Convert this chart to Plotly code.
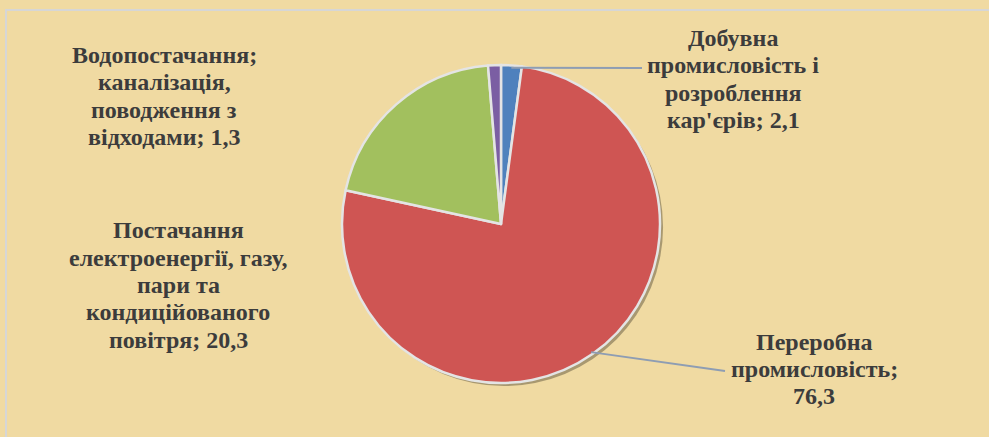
import math
import plotly.graph_objects as go

W, H = 989, 437

# ---- data ----
categories = [
    "Добувна промисловість і розроблення кар'єрів",
    "Переробна промисловість",
    "Постачання електроенергії, газу, пари та кондиційованого повітря",
    "Водопостачання; каналізація, поводження з відходами",
]
values = [2.1, 76.3, 20.3, 1.3]
label_lines = [
    ["Добувна", "промисловість і", "розроблення", "кар'єрів; {v}"],
    ["Переробна", "промисловість;", "{v}"],
    ["Постачання", "електроенергії, газу,", "пари та", "кондиційованого", "повітря; {v}"],
    ["Водопостачання;", "каналізація,", "поводження з", "відходами; {v}"],
]
colors = ["#4F81BD", "#CF5553", "#A2C05E", "#7B5EA3"]

# ---- layout (pixels) ----
cx, cy, r = 501, 224, 159
label_pos = [(733, 79), (814, 369), (178, 285), (164, 96)]
leader_end = [(642, 68), (725, 371), None, None]
line_gap = 27.4
font_size = 24

def px(x):
    return x / W

def py(y):
    return 1 - y / H

dom_x = [px(cx - r), px(cx + r)]
dom_y = [py(cy + r), py(cy - r)]

fig = go.Figure()

# soft shadow behind the pie
fig.add_trace(go.Pie(
    values=[1], sort=False, textinfo="none", hoverinfo="skip", showlegend=False,
    marker=dict(colors=["rgba(80,70,50,0.45)"], line=dict(width=0)),
    domain=dict(x=[px(cx - r + 3), px(cx + r + 3)], y=[py(cy + r + 3), py(cy - r + 3)]),
))

fig.add_trace(go.Pie(
    labels=categories, values=values, sort=False, direction="clockwise", rotation=0,
    textinfo="none", showlegend=False,
    marker=dict(colors=colors, line=dict(color="#E4E4E4", width=2.5)),
    domain=dict(x=dom_x, y=dom_y),
))

total = sum(values)
cum = 0.0
annotations = []
shapes = []
for i, (cat, v) in enumerate(zip(categories, values)):
    mid = (cum + v / 2) / total * 2 * math.pi
    cum += v
    vs = f"{v:.1f}".replace(".", ",")
    lines = [ln.replace("{v}", vs) for ln in label_lines[i]]
    lx, ly = label_pos[i]
    n = len(lines)
    for k, ln in enumerate(lines):
        yk = ly + (k - (n - 1) / 2) * line_gap
        annotations.append(dict(
            x=px(lx), y=py(yk), xref="paper", yref="paper", text="<b>" + ln + "</b>",
            showarrow=False, xanchor="center", yanchor="middle", align="center",
            font=dict(family="Liberation Serif", size=font_size, color="#3C3C3C"),
        ))
    if leader_end[i] is not None:
        sx = cx + 0.985 * r * math.sin(mid)
        sy = cy - 0.985 * r * math.cos(mid)
        ex, ey = leader_end[i]
        shapes.append(dict(type="line", xref="paper", yref="paper",
                           x0=px(sx), y0=py(sy), x1=px(ex), y1=py(ey),
                           line=dict(color="#8E9DB3", width=1.8)))

# frame
shapes.append(dict(type="rect", xref="paper", yref="paper",
                   x0=px(6), y0=py(H + 20), x1=px(W + 20), y1=py(10),
                   line=dict(color="#D6D6D6", width=2), layer="below"))

fig.update_layout(
    width=W, height=H, margin=dict(l=0, r=0, t=0, b=0),
    paper_bgcolor="#F0DAA2", plot_bgcolor="#F0DAA2",
    annotations=annotations, shapes=shapes,
)

fig.write_html("out.html", config={"displayModeBar": False},
               post_script="document.body.style.margin='0';document.body.style.overflow='hidden';")
